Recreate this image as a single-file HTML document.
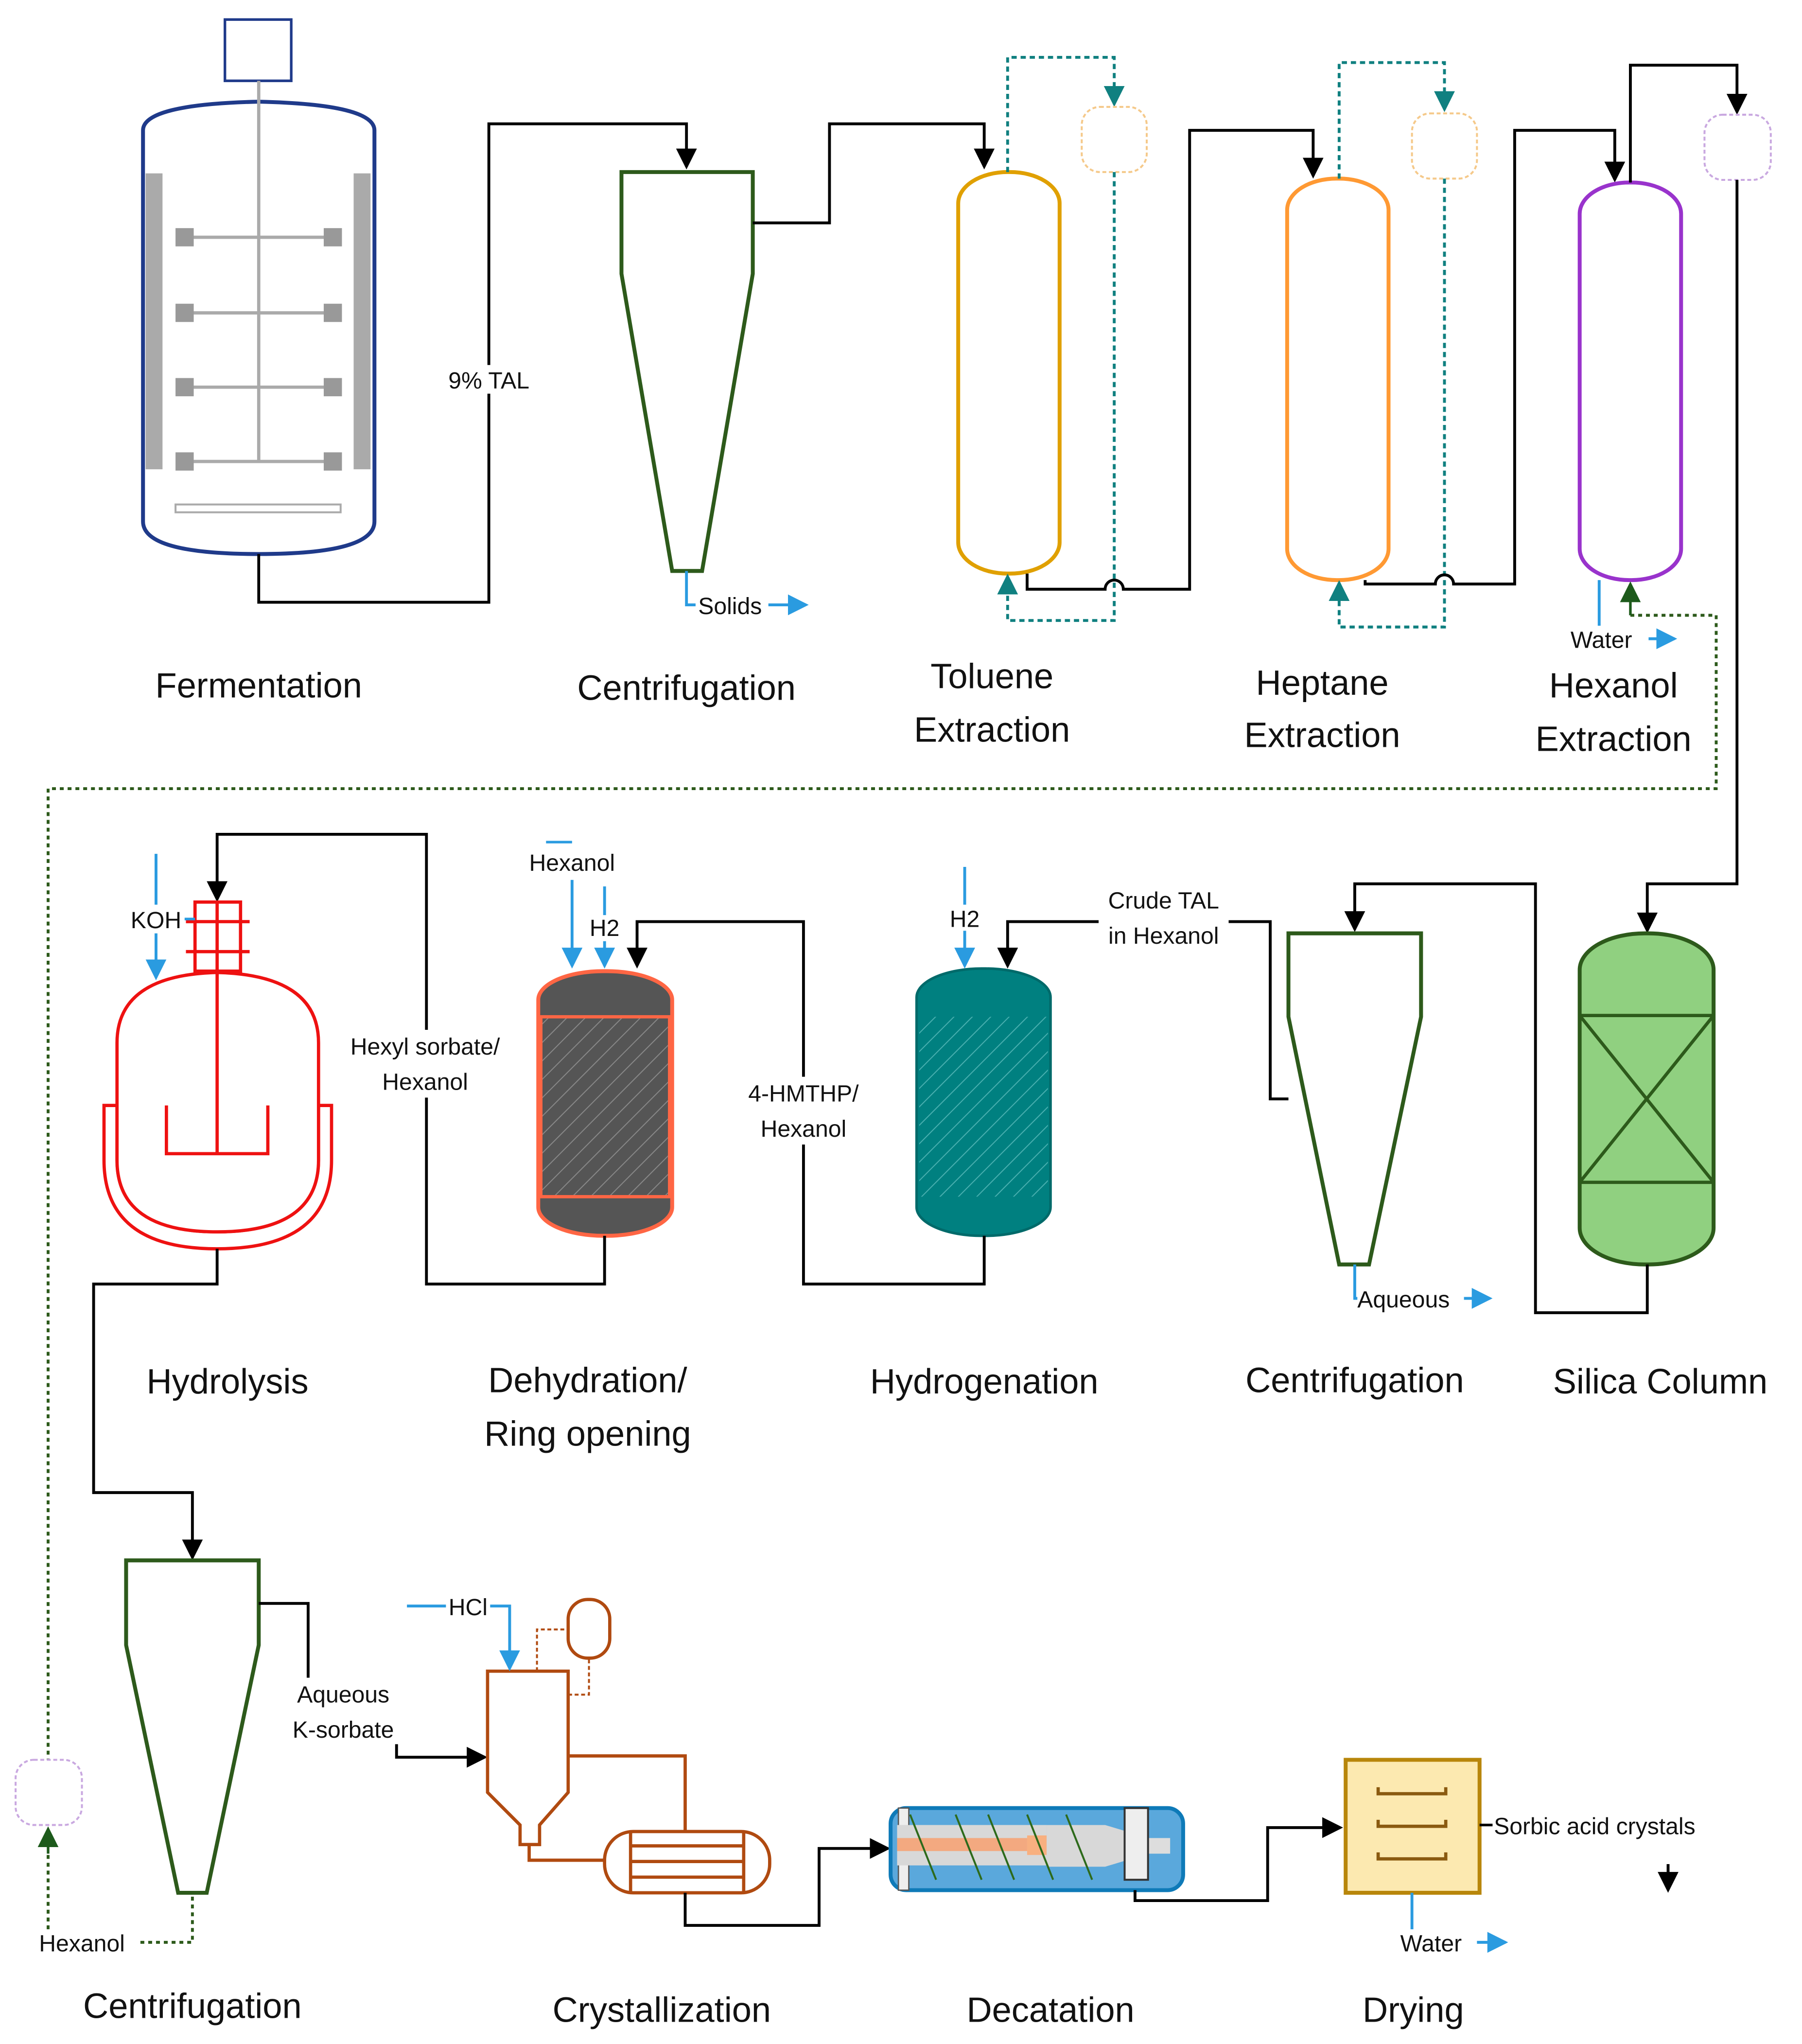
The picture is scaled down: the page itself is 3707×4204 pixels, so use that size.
<!DOCTYPE html>
<html><head><meta charset="utf-8"><style>
html,body{margin:0;padding:0;background:#fff;}
svg{display:block;}
text{font-family:"Liberation Sans","DejaVu Sans",sans-serif;}
.big{font-size:27px;fill:#111;text-anchor:middle;}
.sm{font-size:18px;fill:#111;}
.k{stroke:#000;stroke-width:2.2;fill:none;}
.b{stroke:#2a9be0;stroke-width:2.2;fill:none;}
.t{stroke:#108080;stroke-width:2.2;fill:none;stroke-dasharray:4 3;}
.g{stroke:#2d5a1b;stroke-width:2.2;fill:none;stroke-dasharray:3 3;}
</style></head><body>
<svg width="3707" height="4204" viewBox="0 0 1386 1568" preserveAspectRatio="none" xmlns="http://www.w3.org/2000/svg">
<defs>
<marker id="ab" markerWidth="20" markerHeight="20" refX="14" refY="8" orient="auto" markerUnits="userSpaceOnUse"><path d="M0,0 L16,8 L0,16 Z" fill="#2a9be0"/></marker>
<marker id="at" markerWidth="20" markerHeight="20" refX="14" refY="8" orient="auto" markerUnits="userSpaceOnUse"><path d="M0,0 L16,8 L0,16 Z" fill="#108080"/></marker>
<marker id="ag" markerWidth="20" markerHeight="20" refX="14" refY="8" orient="auto" markerUnits="userSpaceOnUse"><path d="M0,0 L16,8 L0,16 Z" fill="#1d5a1b"/></marker>
<marker id="a2" markerWidth="20" markerHeight="20" refX="14" refY="8" orient="auto" markerUnits="userSpaceOnUse"><path d="M0,0 L16,8 L0,16 Z" fill="#000"/></marker>
<pattern id="h1" width="10" height="10" patternUnits="userSpaceOnUse" patternTransform="rotate(45)"><rect width="10" height="10" fill="#555"/><line x1="0" y1="0" x2="0" y2="10" stroke="#888" stroke-width="1.5"/></pattern>
<pattern id="h2" width="10" height="10" patternUnits="userSpaceOnUse" patternTransform="rotate(45)"><rect width="10" height="10" fill="#008080"/><line x1="0" y1="0" x2="0" y2="10" stroke="#4ab0b0" stroke-width="1.5"/></pattern>
</defs>

<!-- Fermentation -->
<rect x="173" y="15" width="51" height="47" fill="#fff" stroke="#1f3a8a" stroke-width="2"/>
<path d="M110,100 Q110,80 199,78 Q288,80 288,100 L288,400 Q288,425 199,425 Q110,425 110,400 Z" fill="#fff" stroke="#1f3a8a" stroke-width="3"/>
<rect x="112" y="133" width="13" height="227" fill="#aaa"/>
<rect x="272" y="133" width="13" height="227" fill="#aaa"/>
<line x1="199" y1="62" x2="199" y2="355" stroke="#aaa" stroke-width="2.5"/>
<g stroke="#aaa" stroke-width="2.5"><line x1="142" y1="182" x2="256" y2="182"/><line x1="142" y1="240" x2="256" y2="240"/><line x1="142" y1="297" x2="256" y2="297"/><line x1="142" y1="354" x2="256" y2="354"/></g>
<g fill="#999"><rect x="135" y="175" width="14" height="14"/><rect x="249" y="175" width="14" height="14"/><rect x="135" y="233" width="14" height="14"/><rect x="249" y="233" width="14" height="14"/><rect x="135" y="290" width="14" height="14"/><rect x="249" y="290" width="14" height="14"/><rect x="135" y="347" width="14" height="14"/><rect x="249" y="347" width="14" height="14"/></g>
<rect x="135" y="387" width="127" height="6" fill="#fff" stroke="#aaa" stroke-width="1.5"/>
<path class="k" d="M199,425 L199,462 L376,462 L376,95 L528,95 L528,128" marker-end="url(#a2)"/>
<rect x="342" y="280" width="68" height="22" fill="#fff"/>
<text class="sm" x="376" y="298" text-anchor="middle">9% TAL</text>
<text class="big" x="199" y="535">Fermentation</text>

<!-- Centrifuge 1 -->
<polygon points="478,132 579,132 579,210 540,438 517,438 478,210" fill="#fff" stroke="#2d5a1b" stroke-width="3"/>
<path class="b" d="M528,438 L528,464 L620,464" marker-end="url(#ab)"/>
<rect x="535" y="454" width="56" height="20" fill="#fff"/>
<text class="sm" x="537" y="471">Solids</text>
<path class="k" d="M579,171 L638,171 L638,95 L757,95 L757,128" marker-end="url(#a2)"/>
<text class="big" x="528" y="537">Centrifugation</text>

<!-- Toluene -->
<rect x="737" y="132" width="78" height="308" rx="38" ry="24" fill="#fff" stroke="#e0a000" stroke-width="3"/>
<path class="t" d="M775,132 L775,44 L857,44 L857,80" marker-end="url(#at)"/>
<rect x="832" y="82" width="50" height="50" rx="14" fill="#fff" stroke="#f5c98a" stroke-width="1.5" stroke-dasharray="3 2"/>
<path class="t" d="M857,132 L857,476 L775,476 L775,442" marker-end="url(#at)"/>
<path class="k" d="M790,440 L790,452 L850,452 A7,7 0 0 1 864,452 L915,452 L915,100 L1010,100 L1010,135" marker-end="url(#a2)"/>
<text class="big" x="763" y="528">Toluene</text>
<text class="big" x="763" y="569">Extraction</text>

<!-- Heptane -->
<rect x="990" y="137" width="78" height="308" rx="38" ry="24" fill="#fff" stroke="#ff9933" stroke-width="3"/>
<path class="t" d="M1030,137 L1030,48 L1111,48 L1111,84" marker-end="url(#at)"/>
<rect x="1086" y="87" width="50" height="50" rx="14" fill="#fff" stroke="#f5c98a" stroke-width="1.5" stroke-dasharray="3 2"/>
<path class="t" d="M1111,137 L1111,481 L1030,481 L1030,447" marker-end="url(#at)"/>
<path class="k" d="M1050,445 L1050,448 L1104,448 A7,7 0 0 1 1118,448 L1165,448 L1165,100 L1242,100 L1242,138" marker-end="url(#a2)"/>
<text class="big" x="1017" y="533">Heptane</text>
<text class="big" x="1017" y="573">Extraction</text>

<!-- Hexanol -->
<rect x="1215" y="140" width="78" height="305" rx="38" ry="24" fill="#fff" stroke="#9933cc" stroke-width="3"/>
<path class="k" d="M1254,140 L1254,50 L1336,50 L1336,86" marker-end="url(#a2)"/>
<rect x="1311" y="88" width="51" height="50" rx="14" fill="#fff" stroke="#c9a8e0" stroke-width="1.5" stroke-dasharray="3 2"/>
<path class="k" d="M1336,138 L1336,678 L1267,678 L1267,714" marker-end="url(#a2)"/>
<path class="b" d="M1230,445 L1230,490 L1288,490" marker-end="url(#ab)"/>
<rect x="1206" y="480" width="62" height="20" fill="#fff"/>
<text class="sm" x="1208" y="497">Water</text>
<path class="g" d="M1320,472 L1320,605 L37,605 L37,1350"/>
<path class="g" d="M1254,472 L1320,472"/>
<path d="M1254,472 L1254,448" stroke="#1d5a1b" stroke-width="2" marker-end="url(#ag)"/>
<text class="big" x="1241" y="535">Hexanol</text>
<text class="big" x="1241" y="576">Extraction</text>

<!-- Silica column -->
<rect x="1215" y="716" width="103" height="254" rx="50" ry="28" fill="#90d080" stroke="#2d5a1b" stroke-width="3"/>
<g stroke="#2d5a1b" stroke-width="2.5"><line x1="1215" y1="779" x2="1318" y2="779"/><line x1="1215" y1="907" x2="1318" y2="907"/><line x1="1215" y1="779" x2="1318" y2="907"/><line x1="1318" y1="779" x2="1215" y2="907"/></g>
<path class="k" d="M1267,970 L1267,1007 L1181,1007 L1181,678 L1042,678 L1042,713" marker-end="url(#a2)"/>
<text class="big" x="1277" y="1069">Silica Column</text>

<!-- Centrifuge 2 -->
<polygon points="991,716 1093,716 1093,780 1053,970 1030,970 991,780" fill="#fff" stroke="#2d5a1b" stroke-width="3"/>
<path class="b" d="M1042,970 L1042,996 L1146,996" marker-end="url(#ab)"/>
<rect x="1044" y="986" width="82" height="20" fill="#fff"/>
<text class="sm" x="1044" y="1003">Aqueous</text>
<path class="k" d="M991,843 L977,843 L977,707 L775,707 L775,741" marker-end="url(#a2)"/>
<rect x="845" y="680" width="100" height="50" fill="#fff"/>
<text class="sm" x="895" y="697" text-anchor="middle">Crude TAL</text>
<text class="sm" x="895" y="724" text-anchor="middle">in Hexanol</text>
<text class="big" x="1042" y="1068">Centrifugation</text>

<!-- Hydrogenation -->
<rect x="705" y="743" width="103" height="205" rx="50" ry="22" fill="#008080" stroke="#006a6a" stroke-width="2"/>
<rect x="707" y="780" width="99" height="138" fill="url(#h2)"/>
<path class="b" d="M742,665 L742,741" marker-end="url(#ab)"/>
<rect x="728" y="694" width="28" height="20" fill="#fff"/>
<text class="sm" x="742" y="711" text-anchor="middle">H2</text>
<path class="k" d="M757,948 L757,985 L618,985 L618,707 L490,707 L490,741" marker-end="url(#a2)"/>
<rect x="566" y="826" width="104" height="52" fill="#fff"/>
<text class="sm" x="618" y="845" text-anchor="middle">4-HMTHP/</text>
<text class="sm" x="618" y="872" text-anchor="middle">Hexanol</text>
<text class="big" x="757" y="1069">Hydrogenation</text>

<!-- Dehydration -->
<rect x="414" y="745" width="103" height="203" rx="50" ry="22" fill="#555" stroke="#ff6644" stroke-width="3"/>
<rect x="416" y="780" width="99" height="138" fill="url(#h1)" stroke="#ff6644" stroke-width="2.5"/>
<line x1="420" y1="646" x2="440" y2="646" stroke="#2a9be0" stroke-width="2"/>
<path class="b" d="M440,675 L440,741" marker-end="url(#ab)"/>
<text class="sm" x="440" y="668" text-anchor="middle">Hexanol</text>
<path class="b" d="M465,680 L465,741" marker-end="url(#ab)"/>
<rect x="451" y="702" width="28" height="20" fill="#fff"/>
<text class="sm" x="465" y="718" text-anchor="middle">H2</text>
<path class="k" d="M465,948 L465,985 L328,985 L328,640 L167,640 L167,690" marker-end="url(#a2)"/>
<rect x="258" y="790" width="140" height="52" fill="#fff"/>
<text class="sm" x="327" y="809" text-anchor="middle">Hexyl sorbate/</text>
<text class="sm" x="327" y="836" text-anchor="middle">Hexanol</text>
<text class="big" x="452" y="1068">Dehydration/</text>
<text class="big" x="452" y="1109">Ring opening</text>

<!-- Hydrolysis -->
<g stroke="#ee1111" stroke-width="2.5" fill="#fff">
<path d="M80,848 L80,890 Q80,958 167,958 Q255,958 255,890 L255,848 L245,848 L245,890 Q245,945 167,945 Q90,945 90,890 L90,848 Z"/>
<path d="M90,800 Q90,748 167,746 Q245,748 245,800 L245,890 Q245,945 167,945 Q90,945 90,890 Z"/>
<rect x="150" y="692" width="35" height="53"/>
<line x1="143" y1="707" x2="192" y2="707"/><line x1="143" y1="730" x2="192" y2="730"/>
<line x1="167" y1="692" x2="167" y2="885"/>
<path d="M128,848 L128,885 L206,885 L206,848" fill="none"/>
</g>
<path class="b" d="M120,655 L120,750" marker-end="url(#ab)"/>
<line x1="140" y1="705" x2="150" y2="705" stroke="#2a9be0" stroke-width="2"/>
<rect x="98" y="694" width="44" height="22" fill="#fff"/>
<text class="sm" x="120" y="712" text-anchor="middle">KOH</text>
<path class="k" d="M167,958 L167,985 L72,985 L72,1145 L148,1145 L148,1195" marker-end="url(#a2)"/>
<text class="big" x="175" y="1069">Hydrolysis</text>

<!-- Centrifuge 3 -->
<polygon points="97,1197 199,1197 199,1262 159,1452 137,1452 97,1262" fill="#fff" stroke="#2d5a1b" stroke-width="3"/>
<rect x="12" y="1350" width="51" height="50" rx="14" fill="#fff" stroke="#c9a8e0" stroke-width="1.5" stroke-dasharray="3 2"/>
<path class="g" d="M37,1480 L37,1420"/>
<path d="M37,1422 L37,1403" stroke="#1d5a1b" stroke-width="2" marker-end="url(#ag)"/>
<path class="g" d="M148,1455 L148,1490 L105,1490"/>
<text class="sm" x="30" y="1497">Hexanol</text>
<path class="k" d="M199,1230 L237,1230 L237,1287"/>
<text class="sm" x="264" y="1306" text-anchor="middle">Aqueous</text>
<text class="sm" x="264" y="1333" text-anchor="middle">K-sorbate</text>
<path class="k" d="M305,1338 L305,1348 L373,1348" marker-end="url(#a2)"/>
<text class="big" x="148" y="1548">Centrifugation</text>

<!-- Crystallization -->
<g stroke="#b04a10" stroke-width="2.5" fill="#fff">
<polygon points="375,1282 437,1282 437,1375 415,1400 415,1415 400,1415 400,1400 375,1375"/>
<rect x="437" y="1227" width="32" height="45" rx="15"/>
<path d="M437,1347 L527,1347 L527,1405 M407,1415 L407,1427 L465,1427" fill="none"/>
<rect x="465" y="1405" width="127" height="47" rx="22"/>
<line x1="485" y1="1405" x2="485" y2="1452"/><line x1="572" y1="1405" x2="572" y2="1452"/>
<line x1="485" y1="1416" x2="572" y2="1416"/><line x1="485" y1="1428" x2="572" y2="1428"/><line x1="485" y1="1440" x2="572" y2="1440"/>
</g>
<path d="M437,1300 L453,1300 L453,1272 M413,1282 L413,1250 L437,1250" stroke="#b04a10" stroke-width="1.5" fill="none" stroke-dasharray="3 2"/>
<path class="b" d="M313,1232 L392,1232 L392,1280" marker-end="url(#ab)"/>
<rect x="343" y="1222" width="34" height="20" fill="#fff"/>
<text class="sm" x="345" y="1239">HCl</text>
<path class="k" d="M527,1452 L527,1477 L630,1477 L630,1418 L683,1418" marker-end="url(#a2)"/>
<text class="big" x="509" y="1551">Crystallization</text>

<!-- Decanter -->
<rect x="685" y="1387" width="225" height="63" rx="12" fill="#5aa8dc" stroke="#0e7ab8" stroke-width="3"/>
<rect x="691" y="1387" width="8" height="63" fill="#eee" stroke="#555"/>
<rect x="690" y="1400" width="115" height="31" fill="#d8d8d8"/>
<rect x="690" y="1410" width="100" height="10" fill="#f3a980"/>
<rect x="790" y="1408" width="15" height="15" fill="#f8b080"/>
<polygon points="805,1400 850,1400 870,1406 870,1426 850,1432 805,1432" fill="#d8d8d8"/>
<rect x="870" y="1410" width="30" height="12" fill="#ddd"/>
<rect x="865" y="1387" width="18" height="55" fill="#eee" stroke="#333" stroke-width="1.5"/>
<path d="M700,1392 L720,1442 M735,1392 L755,1442 M760,1392 L780,1442 M790,1392 L810,1442 M820,1392 L840,1442" stroke="#2d6a1b" stroke-width="1.5"/>
<path class="k" d="M873,1450 L873,1458 L975,1458 L975,1402 L1031,1402" marker-end="url(#a2)"/>
<text class="big" x="808" y="1551">Decatation</text>

<!-- Drying -->
<rect x="1035" y="1350" width="103" height="102" fill="#fce9b0" stroke="#b8860b" stroke-width="3"/>
<g stroke="#8a5a10" stroke-width="2.5" fill="none"><path d="M1060,1371 L1060,1376 L1112,1376 L1112,1371"/><path d="M1060,1396 L1060,1401 L1112,1401 L1112,1396"/><path d="M1060,1421 L1060,1426 L1112,1426 L1112,1421"/></g>
<line x1="1138" y1="1400" x2="1148" y2="1400" stroke="#000" stroke-width="2"/>
<text class="sm" x="1149" y="1407">Sorbic acid crystals</text>
<path d="M1283,1430 L1283,1450" stroke="#000" stroke-width="2.2" marker-end="url(#a2)"/>
<path class="b" d="M1086,1452 L1086,1490 L1158,1490" marker-end="url(#ab)"/>
<rect x="1076" y="1480" width="60" height="20" fill="#fff"/>
<text class="sm" x="1077" y="1497">Water</text>
<text class="big" x="1087" y="1551">Drying</text>
</svg>
</body></html>
